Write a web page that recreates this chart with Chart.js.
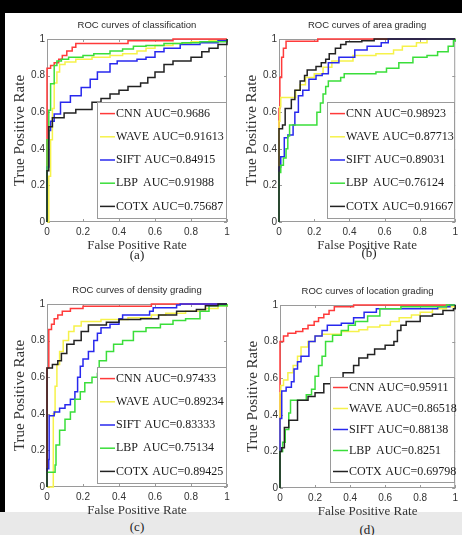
<!DOCTYPE html>
<html>
<head>
<meta charset="utf-8">
<script src="https://cdn.jsdelivr.net/npm/chart.js@4.4.1/dist/chart.umd.min.js"></script>
<style>
  html, body { margin: 0; padding: 0; background: #fff; width: 462px; height: 535px; overflow: hidden; position: relative; }
  canvas { position: absolute; }
  .cap { position: absolute; width: 40px; text-align: center; font: 13px "Liberation Serif", serif; line-height: 16px; color: #222; }
  #topband { position: absolute; left: 0; top: 0; width: 462px; height: 13px; background: #000; }
  #leftband { position: absolute; left: 0; top: 0; width: 5px; height: 512px; background: #000; }
  #bottomband { position: absolute; left: 0; top: 512px; width: 462px; height: 23px; background: #e9e9e9; }
</style>
</head>
<body>
<div id="topband"></div>
<div id="leftband"></div>
<div id="bottomband"></div>
<canvas id="ca" width="232" height="240" style="left:5px;top:13px"></canvas>
<canvas id="cb" width="225" height="240" style="left:237px;top:13px"></canvas>
<canvas id="cc" width="232" height="240" style="left:5px;top:278px"></canvas>
<canvas id="cd" width="224" height="240" style="left:238px;top:279px"></canvas>
<div class="cap" id="capa" style="left:117px;top:247px"></div>
<div class="cap" id="capb" style="left:349px;top:245px"></div>
<div class="cap" id="capc" style="left:117px;top:519px"></div>
<div class="cap" id="capd" style="left:347px;top:522px"></div>
<script>
const methods = ['CNN', 'WAVE', 'SIFT', 'LBP', 'COTX'];
const titles = ['ROC curves of classification', 'ROC curves of area grading',
  'ROC curves of density grading', 'ROC curves of location grading'];
const captions = ['(a)', '(b)', '(c)', '(d)'];
const tickLabels = ['0', '0.2', '0.4', '0.6', '0.8', '1'];

const aucA = ['0.9686', '0.91613', '0.84915', '0.91988', '0.75687'];
const aucB = ['0.98923', '0.87713', '0.89031', '0.76124', '0.91667'];
const aucC = ['0.97433', '0.89234', '0.83333', '0.75134', '0.89425'];
const aucD = ['0.95911', '0.86518', '0.88138', '0.8251', '0.69798'];

// [false positive rate, true positive rate], step corners
// (a) classification
const cnnA = [[0,0],[0,0.84],[0.02,0.855],[0.04,0.87],[0.065,0.89],[0.085,0.91],[0.11,0.935],[0.14,0.955],[0.16,0.975],[0.45,0.99],[0.7,1],[1,1]];
const waveA = [[0,0],[0.01,0.25],[0.02,0.45],[0.03,0.62],[0.04,0.76],[0.055,0.82],[0.07,0.86],[0.1,0.875],[0.16,0.89],[0.25,0.9],[0.35,0.91],[0.42,0.92],[0.5,0.935],[0.55,0.95],[0.6,0.965],[0.7,0.975],[0.8,0.985],[0.9,0.99],[1,1]];
const siftA = [[0,0],[0,0.3],[0.01,0.5],[0.02,0.55],[0.04,0.59],[0.075,0.655],[0.13,0.69],[0.19,0.735],[0.24,0.78],[0.28,0.82],[0.35,0.865],[0.39,0.88],[0.5,0.89],[0.55,0.9],[0.6,0.93],[0.65,0.95],[0.74,0.97],[0.85,0.98],[0.95,0.99],[1,1]];
const lbpA = [[0,0],[0,0.45],[0.01,0.61],[0.02,0.755],[0.04,0.855],[0.055,0.88],[0.08,0.89],[0.12,0.9],[0.2,0.91],[0.26,0.92],[0.35,0.935],[0.42,0.945],[0.48,0.96],[0.55,0.965],[0.65,0.975],[0.75,0.98],[0.85,0.985],[1,1]];
const cotxA = [[0,0],[0,0.28],[0.01,0.52],[0.03,0.57],[0.095,0.595],[0.16,0.615],[0.25,0.655],[0.3,0.675],[0.35,0.7],[0.4,0.72],[0.45,0.74],[0.52,0.76],[0.56,0.79],[0.6,0.82],[0.65,0.86],[0.7,0.88],[0.8,0.9],[0.86,0.93],[0.9,0.95],[0.95,0.97],[1,1]];
// (b) area grading
const cnnB = [[0,0],[0,0.62],[0.005,0.79],[0.015,0.9],[0.025,0.95],[0.04,0.988],[0.22,1],[1,1]];
const waveB = [[0,0],[0,0.55],[0.005,0.63],[0.01,0.68],[0.095,0.72],[0.12,0.75],[0.15,0.79],[0.2,0.81],[0.25,0.845],[0.3,0.88],[0.42,0.91],[0.55,0.92],[0.65,0.94],[0.7,0.96],[0.78,0.98],[0.84,1],[1,1]];
const siftB = [[0,0],[0,0.3],[0.01,0.357],[0.03,0.46],[0.05,0.475],[0.08,0.53],[0.09,0.6],[0.11,0.69],[0.135,0.72],[0.17,0.78],[0.21,0.8],[0.245,0.81],[0.28,0.87],[0.34,0.9],[0.43,0.94],[0.5,0.96],[0.58,0.98],[0.62,1],[1,1]];
const lbpB = [[0,0],[0,0.27],[0.01,0.31],[0.025,0.35],[0.04,0.4],[0.05,0.47],[0.06,0.53],[0.215,0.6],[0.235,0.65],[0.25,0.7],[0.265,0.74],[0.28,0.77],[0.35,0.79],[0.37,0.81],[0.55,0.82],[0.61,0.84],[0.68,0.87],[0.76,0.9],[0.84,0.91],[0.9,0.93],[0.96,0.96],[0.99,0.99],[1,1]];
const cotxB = [[0,0],[0,0.51],[0.02,0.53],[0.035,0.62],[0.07,0.67],[0.09,0.72],[0.12,0.77],[0.145,0.8],[0.16,0.83],[0.21,0.85],[0.24,0.87],[0.265,0.89],[0.285,0.92],[0.32,0.95],[0.35,0.97],[0.38,0.985],[0.47,0.99],[0.54,1],[1,1]];
// (c) density grading
const cnnC = [[0,0],[0,0.65],[0.01,0.86],[0.025,0.89],[0.04,0.92],[0.06,0.94],[0.085,0.96],[0.13,0.975],[0.2,0.988],[0.58,1],[1,1]];
const waveC = [[0,0],[0.035,0.4],[0.045,0.55],[0.055,0.67],[0.07,0.74],[0.09,0.8],[0.12,0.85],[0.15,0.88],[0.19,0.905],[0.3,0.915],[0.45,0.925],[0.58,0.94],[0.66,0.95],[0.77,0.96],[0.88,0.975],[0.95,0.99],[1,1]];
const siftC = [[0,0],[0,0.1],[0.01,0.15],[0.012,0.39],[0.04,0.41],[0.07,0.43],[0.1,0.45],[0.13,0.48],[0.155,0.52],[0.17,0.6],[0.185,0.66],[0.2,0.7],[0.23,0.74],[0.26,0.8],[0.28,0.84],[0.3,0.87],[0.35,0.89],[0.4,0.92],[0.42,0.94],[0.57,0.96],[0.59,0.98],[0.72,0.995],[0.74,1],[1,1]];
const lbpC = [[0,0],[0,0.08],[0.045,0.12],[0.05,0.23],[0.07,0.31],[0.1,0.37],[0.13,0.41],[0.155,0.48],[0.185,0.52],[0.21,0.57],[0.25,0.6],[0.28,0.62],[0.29,0.69],[0.33,0.74],[0.37,0.78],[0.42,0.8],[0.48,0.85],[0.55,0.87],[0.63,0.89],[0.7,0.91],[0.77,0.92],[0.85,0.96],[0.9,0.99],[1,1]];
const cotxC = [[0,0],[0,0.65],[0.03,0.67],[0.06,0.69],[0.08,0.73],[0.11,0.78],[0.15,0.8],[0.19,0.85],[0.23,0.885],[0.33,0.9],[0.4,0.915],[0.52,0.92],[0.62,0.94],[0.72,0.96],[0.83,0.97],[0.88,0.99],[0.95,1],[1,1]];
// (d) location grading
const cnnD = [[0,0],[0,0.8],[0.02,0.83],[0.045,0.845],[0.09,0.855],[0.13,0.87],[0.16,0.89],[0.195,0.91],[0.22,0.93],[0.25,0.95],[0.28,0.97],[0.31,0.99],[0.42,1],[1,1]];
const waveD = [[0,0],[0,0.52],[0.005,0.56],[0.02,0.59],[0.045,0.63],[0.075,0.67],[0.1,0.72],[0.12,0.77],[0.16,0.8],[0.2,0.83],[0.24,0.84],[0.35,0.855],[0.45,0.865],[0.5,0.88],[0.57,0.89],[0.63,0.91],[0.68,0.93],[0.75,0.945],[0.8,0.96],[0.87,0.98],[0.95,0.99],[1,1]];
const siftD = [[0,0],[0,0.38],[0.01,0.53],[0.035,0.55],[0.065,0.58],[0.08,0.65],[0.1,0.69],[0.12,0.72],[0.165,0.8],[0.2,0.83],[0.24,0.86],[0.27,0.89],[0.35,0.9],[0.42,0.93],[0.48,0.96],[0.55,0.98],[0.9,0.99],[0.97,1],[1,1]];
const lbpD = [[0,0],[0,0.2],[0.015,0.25],[0.03,0.32],[0.05,0.41],[0.06,0.48],[0.15,0.51],[0.18,0.54],[0.2,0.61],[0.22,0.67],[0.24,0.72],[0.26,0.8],[0.3,0.835],[0.35,0.86],[0.39,0.89],[0.43,0.91],[0.5,0.94],[0.57,0.98],[0.69,0.99],[0.95,1],[1,1]];
const cotxD = [[0,0],[0,0.2],[0.01,0.22],[0.025,0.33],[0.05,0.37],[0.1,0.48],[0.16,0.5],[0.2,0.52],[0.25,0.57],[0.3,0.6],[0.36,0.63],[0.42,0.67],[0.45,0.71],[0.5,0.73],[0.54,0.76],[0.6,0.78],[0.65,0.8],[0.67,0.86],[0.69,0.89],[0.72,0.91],[0.8,0.94],[0.87,0.95],[0.93,0.97],[0.99,0.98],[1,1]];

const lineColors = ['#ff3a3a', '#f6f24a', '#2828ee', '#3ade3a', '#222222'];

const panels = [
  { id: 'ca', cap: 'capa', title: titles[0], caption: captions[0], auc: aucA, curves: [cnnA, waveA, siftA, lbpA, cotxA], box: { dx: 50, dy: 63, h: 116 } },
  { id: 'cb', cap: 'capb', title: titles[1], caption: captions[1], auc: aucB, curves: [cnnB, waveB, siftB, lbpB, cotxB], box: { dx: 48, dy: 63, h: 116 } },
  { id: 'cc', cap: 'capc', title: titles[2], caption: captions[2], auc: aucC, curves: [cnnC, waveC, siftC, lbpC, cotxC], box: { dx: 50, dy: 63, h: 116 } },
  { id: 'cd', cap: 'capd', title: titles[3], caption: captions[3], auc: aucD, curves: [cnnD, waveD, siftD, lbpD, cotxD], box: { dx: 50, dy: 72, h: 105 } }
];

// axes box with inward ticks, matlab style
const frame = {
  id: 'frame',
  beforeDatasetsDraw(chart) {
    const { ctx, chartArea: a, scales: { x, y } } = chart;
    ctx.save();
    ctx.strokeStyle = '#9a9a9a';
    ctx.lineWidth = 1;
    ctx.strokeRect(a.left + 0.5, a.top + 0.5, a.width - 1, a.height - 1);
    ctx.beginPath();
    x.ticks.forEach(t => {
      const px = Math.round(x.getPixelForValue(t.value)) + 0.5;
      ctx.moveTo(px, a.bottom); ctx.lineTo(px, a.bottom - 3);
      ctx.moveTo(px, a.top); ctx.lineTo(px, a.top + 3);
    });
    y.ticks.forEach(t => {
      const py = Math.round(y.getPixelForValue(t.value)) + 0.5;
      ctx.moveTo(a.left, py); ctx.lineTo(a.left + 3, py);
      ctx.moveTo(a.right, py); ctx.lineTo(a.right - 3, py);
    });
    ctx.stroke();
    ctx.restore();
  }
};

const legendBox = {
  id: 'box',
  afterDatasetsDraw(chart, args, opts) {
    const { ctx, chartArea: a } = chart;
    const left = a.left + opts.dx, top = a.top + opts.dy;
    const w = a.right - left, h = opts.h;
    ctx.save();
    ctx.fillStyle = '#fff';
    ctx.fillRect(left, top, w, h);
    ctx.strokeStyle = '#9a9a9a';
    ctx.lineWidth = 1;
    ctx.strokeRect(Math.round(left) + 0.5, Math.round(top) + 0.5, Math.round(w) - 1, Math.round(h));
    ctx.font = '12px "Liberation Serif"';
    ctx.textBaseline = 'middle';
    const rowH = h / chart.data.datasets.length;
    chart.data.datasets.forEach((ds, i) => {
      const cy = top + rowH * (i + 0.5);
      ctx.strokeStyle = ds.borderColor;
      ctx.lineWidth = 1.5;
      ctx.beginPath();
      ctx.moveTo(left + 3, cy); ctx.lineTo(left + 18, cy);
      ctx.stroke();
      ctx.fillStyle = '#1a1a1a';
      ctx.fillText(ds.label, left + 19, cy);
      const nameEnd = left + 19 + ctx.measureText(ds.label).width;
      ctx.fillText('AUC=' + ds.auc, Math.max(left + 46, nameEnd + 3.5), cy);
    });
    ctx.restore();
  }
};

panels.forEach(p => {
  const canvas = document.getElementById(p.id);
  document.getElementById(p.cap).textContent = p.caption;
  new Chart(canvas, {
    type: 'scatter',
    data: {
      datasets: methods.map((m, i) => ({
        label: m,
        auc: p.auc[i],
        data: p.curves[i],
        borderColor: lineColors[i],
        backgroundColor: lineColors[i],
        borderWidth: 1.5,
        pointRadius: 0,
        showLine: true,
        stepped: true,
        order: 4 - i,
        clip: 1
      }))
    },
    options: {
      responsive: false,
      animation: false,
      events: [],
      layout: { padding: { top: 0, left: 0, bottom: 0, right: canvas.width - 222 } },
      plugins: {
        legend: { display: false },
        tooltip: { enabled: false },
        title: {
          display: true, text: p.title, fullSize: false, color: '#2a2a2a',
          font: { family: 'Liberation Sans', size: 9.5, weight: 'normal' },
          padding: { top: 6.3, bottom: 8.3 }
        },
        box: p.box
      },
      scales: {
        x: {
          type: 'linear', min: 0, max: 1,
          grid: { display: false, drawTicks: false },
          border: { display: false },
          ticks: {
            stepSize: 0.2, padding: 4, color: '#333', maxRotation: 0,
            font: { family: 'Liberation Sans', size: 10 },
            callback: v => tickLabels[Math.round(v * 5)]
          },
          title: {
            display: true, text: 'False Positive Rate', color: '#333',
            font: { family: 'Liberation Serif', size: 13 },
            padding: { top: 0, bottom: 0 }
          },
          afterFit: s => { s.height = 31; }
        },
        y: {
          type: 'linear', min: 0, max: 1,
          grid: { display: false, drawTicks: false },
          border: { display: false },
          ticks: {
            stepSize: 0.2, padding: 2, color: '#333',
            font: { family: 'Liberation Sans', size: 10 },
            callback: v => tickLabels[Math.round(v * 5)]
          },
          title: {
            display: true, text: 'True Positive Rate', color: '#333',
            font: { family: 'Liberation Serif', size: 15 },
            padding: { top: 6, bottom: 0 }
          },
          afterFit: s => { s.width = 42; }
        }
      }
    },
    plugins: [frame, legendBox]
  });
});
</script>
</body>
</html>
